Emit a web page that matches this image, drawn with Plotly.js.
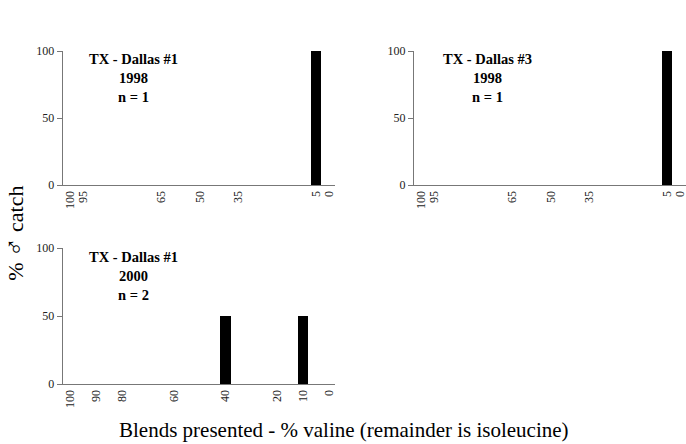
<!DOCTYPE html>
<html>
<head>
<meta charset="utf-8">
<script src="https://cdn.plot.ly/plotly-3.0.1.min.js"></script>
<style>
  html, body { margin: 0; padding: 0; background: #fff; }
  #chart { width: 686px; height: 444px; }
</style>
</head>
<body>
<div id="chart"></div>
<script>
// blends presented (% valine) and % male catch for each trap site
var blends1998 = [100, 95, 65, 50, 35, 5, 0];
var catchDallas1_1998 = [0, 0, 0, 0, 0, 100, 0];
var catchDallas3_1998 = [0, 0, 0, 0, 0, 100, 0];

var blends2000 = [100, 90, 80, 60, 40, 20, 10, 0];
var catchDallas1_2000 = [0, 0, 0, 0, 50, 0, 50, 0];

var panelLabels = [
  "TX - Dallas #1<br>1998<br>n = 1",
  "TX - Dallas #3<br>1998<br>n = 1",
  "TX - Dallas #1<br>2000<br>n = 2"
];

var serif = "Liberation Serif";
var axisColor = "#777";

function bars(x, y, xa, ya) {
  return {
    x: x, y: y, type: "bar", width: 4,
    xaxis: xa, yaxis: ya,
    marker: { color: "#000" },
    hoverinfo: "skip"
  };
}

var data = [
  bars(blends1998, catchDallas1_1998, "x", "y"),
  bars(blends1998, catchDallas3_1998, "x2", "y2"),
  bars(blends2000, catchDallas1_2000, "x3", "y3")
];

function xAxis(domain, anchor, ticks) {
  return {
    domain: domain, anchor: anchor,
    range: [102.8, -2.3],
    tickmode: "array", tickvals: ticks, ticktext: ticks.map(String),
    tickangle: -90,
    ticks: "", showgrid: false, zeroline: false,
    showline: true, linecolor: axisColor, linewidth: 1.2,
    tickfont: { family: serif, size: 12, color: "#222" },
    ticklabeloverflow: "allow",
    fixedrange: true
  };
}
function yAxis(domain, anchor) {
  return {
    domain: domain, anchor: anchor,
    range: [0, 100],
    tickvals: [0, 50, 100],
    ticks: "outside", ticklen: 5, tickcolor: axisColor, tickwidth: 1,
    showgrid: false, zeroline: false,
    showline: true, linecolor: axisColor, linewidth: 1.2,
    tickfont: { family: serif, size: 12, color: "#222" },
    fixedrange: true
  };
}

var topRow = [0.5833, 0.8851];
var bottomRow = [0.1351, 0.4414];
var leftCol = [0.0918, 0.4883];
var rightCol = [0.6035, 1.0];

function label(text, x, y) {
  return {
    text: "<b>" + text.split("<br>").join("</b><br><b>") + "</b>",
    x: x, y: y, xref: "paper", yref: "paper",
    xanchor: "center", yanchor: "middle", align: "center",
    showarrow: false,
    font: { family: serif, size: 14.5, color: "#000" }
  };
}

var layout = {
  width: 686, height: 444,
  margin: { l: 0, r: 0, t: 0, b: 0 },
  paper_bgcolor: "#fff", plot_bgcolor: "#fff",
  font: { family: serif },
  showlegend: false, bargap: 0,
  xaxis: xAxis(leftCol, "y", blends1998),
  yaxis: yAxis(topRow, "x"),
  xaxis2: xAxis(rightCol, "y2", blends1998),
  yaxis2: yAxis(topRow, "x2"),
  xaxis3: xAxis(leftCol, "y3", blends2000),
  yaxis3: yAxis(bottomRow, "x3"),
  annotations: [
    label(panelLabels[0], 0.194, 0.824),
    label(panelLabels[1], 0.7107, 0.824),
    label(panelLabels[2], 0.194, 0.378),
    {
      text: "Blends presented - % valine (remainder is isoleucine)",
      x: 0.501, y: 0.0315, xref: "paper", yref: "paper",
      xanchor: "center", yanchor: "middle", showarrow: false,
      font: { family: serif, size: 21, color: "#000" }
    },
    {
      text: "% <span style=\"font-size:26px\">\u2642</span> catch",
      x: 0.02, y: 0.475, xref: "paper", yref: "paper",
      xanchor: "center", yanchor: "middle", showarrow: false,
      textangle: -90,
      font: { family: serif, size: 22, color: "#000" }
    }
  ]
};

Plotly.newPlot("chart", data, layout, { displayModeBar: false, staticPlot: true });
</script>
</body>
</html>
